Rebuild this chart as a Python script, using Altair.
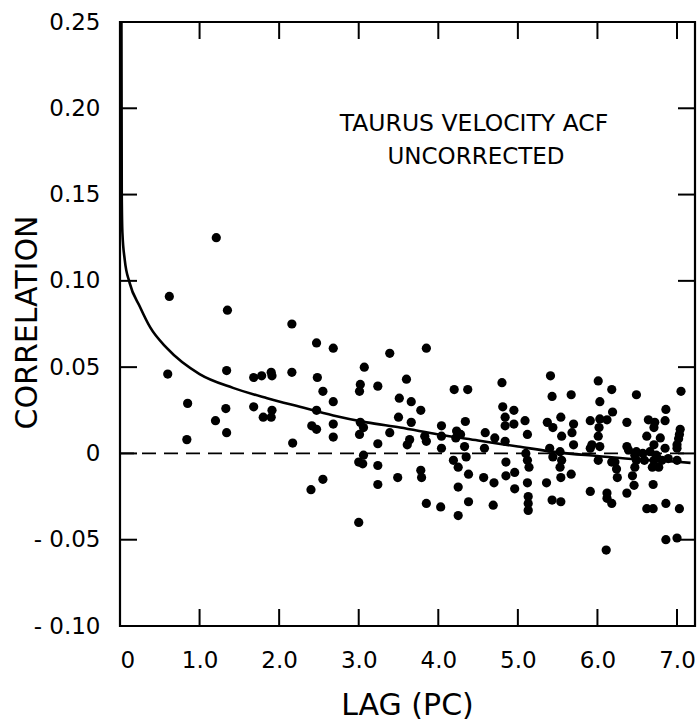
import altair as alt
import pandas as pd

# ---- scatter points (lag in pc, correlation) ----
lag = [
    0.62, 1.21, 1.35, 2.16, 0.60, 1.34, 1.68, 1.78, 1.90, 1.91, 2.16,
    0.85, 1.33, 1.68, 1.91, 1.80, 1.90, 1.20, 1.34, 0.84, 2.17,
    2.47, 2.68, 3.39, 3.07, 2.48, 3.60, 3.02, 3.01, 3.24, 2.55, 2.68, 3.51, 3.66,
    2.47, 3.78, 3.50, 3.66, 2.41, 2.47, 2.68, 3.02, 3.06, 3.01, 2.68, 3.39, 3.24,
    3.64, 3.61, 3.06, 3.00, 3.05, 3.24, 3.78, 2.55, 2.40, 3.24, 3.49, 3.00,
    3.85, 4.20, 4.37, 4.80, 4.81, 4.95, 4.84, 4.95, 4.84, 5.09, 5.12, 4.34, 4.04,
    4.23, 4.28, 3.83, 3.85, 4.04, 4.22, 4.59, 4.71, 4.84, 4.04, 4.33, 4.58, 4.35,
    4.19, 4.25, 4.38, 3.79, 4.57, 4.70, 4.85, 4.85, 4.96, 5.10, 5.12, 5.14, 5.12,
    4.96, 4.25, 3.85, 4.03, 4.38, 4.69, 4.25, 5.13, 5.13, 5.13,
    5.41, 6.01, 5.43, 5.67, 6.18, 6.03, 6.19, 5.37, 5.54, 5.70, 5.44, 5.91, 6.03,
    6.12, 6.02, 5.55, 5.68, 6.01, 5.70, 5.40, 5.93, 5.91, 6.03, 5.44, 5.53, 5.55,
    6.01, 6.18, 5.53, 5.54, 5.67, 5.36, 5.91, 6.12, 6.12, 6.18, 5.43, 5.54, 6.11,
    6.49, 7.05, 6.86, 6.37, 6.64, 6.72, 6.85, 6.71, 7.04, 7.03, 6.62, 6.79, 7.02,
    6.71, 7.00, 6.37, 7.00, 6.39, 6.85, 6.49, 6.57, 6.66, 6.74, 6.47, 6.22, 6.59,
    6.71, 6.81, 6.89, 7.00, 6.69, 6.77, 6.47, 6.49, 6.24, 6.25, 6.44, 6.46, 6.70,
    6.37, 6.62, 6.70, 6.86, 7.03, 6.86, 7.00,
]
corr = [
    0.091, 0.125, 0.083, 0.075, 0.046, 0.048, 0.044, 0.045, 0.047, 0.045, 0.047,
    0.029, 0.026, 0.027, 0.025, 0.021, 0.021, 0.019, 0.012, 0.008, 0.006,
    0.064, 0.061, 0.058, 0.050, 0.044, 0.043, 0.040, 0.036, 0.039, 0.036, 0.030, 0.032, 0.030,
    0.025, 0.025, 0.021, 0.018, 0.016, 0.014, 0.017, 0.018, 0.015, 0.011, 0.0095, 0.012, 0.0056,
    0.008, 0.005, -0.001, -0.005, -0.006, -0.007, -0.0098, -0.015, -0.021, -0.018, -0.014, -0.040,
    0.061, 0.037, 0.037, 0.041, 0.027, 0.025, 0.021, 0.017, 0.016, 0.019, 0.011, 0.0185, 0.016,
    0.013, 0.011, 0.010, 0.007, 0.010, 0.009, 0.012, 0.009, 0.007, 0.003, 0.004, 0.003, -0.002,
    -0.004, -0.008, -0.012, -0.014, -0.014, -0.017, -0.013, -0.005, -0.011, 0.000, -0.004, -0.008, -0.017,
    -0.0205, -0.0195, -0.029, -0.031, -0.028, -0.030, -0.036, -0.025, -0.029, -0.033,
    0.045, 0.042, 0.033, 0.034, 0.037, 0.030, 0.024, 0.018, 0.021, 0.017, 0.015, 0.019, 0.020,
    0.0195, 0.015, 0.010, 0.012, 0.010, 0.005, 0.003, 0.005, 0.003, 0.004, -0.002, 0.001, -0.004,
    -0.004, -0.005, -0.008, -0.014, -0.012, -0.017, -0.022, -0.023, -0.026, -0.029, -0.027, -0.028, -0.056,
    0.034, 0.036, 0.0255, 0.018, 0.0195, 0.018, 0.019, 0.015, 0.014, 0.011, 0.010, 0.009, 0.0085,
    0.005, 0.005, 0.004, 0.003, 0.002, 0.003, 0.001, 0.000, 0.001, -0.001, -0.001, -0.005, -0.004,
    -0.004, -0.004, -0.003, -0.004, -0.008, -0.008, -0.008, -0.004, -0.009, -0.014, -0.013, -0.0185, -0.018,
    -0.023, -0.032, -0.032, -0.029, -0.032, -0.050, -0.049,
]

# ---- fitted curve ----
curve_lag = [0.018, 0.022, 0.03, 0.06, 0.12, 0.25, 0.38, 0.59, 1.0, 1.42, 1.85,
             2.26, 2.68, 3.1, 3.52, 4.0, 4.5, 5.0, 5.5, 6.0, 6.5, 7.0, 7.17]
curve_corr = [0.25, 0.15, 0.128, 0.112, 0.099, 0.085, 0.073, 0.061, 0.046, 0.038, 0.032,
              0.027, 0.022, 0.018, 0.015, 0.011, 0.0075, 0.004, 0.0006, -0.0015, -0.0035,
              -0.0048, -0.0055]

# ---- zero reference line ----
zero_lag = [0.0, 7.13]
zero_corr = [0.0, 0.0]

# ---- ticks ----
x_ticks = [0, 1, 2, 3, 4, 5, 6, 7]
y_ticks = [-0.10, -0.05, 0.0, 0.05, 0.10, 0.15, 0.20, 0.25]
x_inner_ticks = [1, 2, 3, 4, 5, 6, 7]
y_inner_ticks = [-0.05, 0.0, 0.05, 0.10, 0.15, 0.20]

note_lines = ["TAURUS VELOCITY ACF", "UNCORRECTED"]

W, H = 575, 604
TL = 17
FONT = "DejaVu Sans"
X_DOM = [0, 7.226]
Y_DOM = [-0.10, 0.25]

xs = alt.Scale(domain=X_DOM, nice=False, zero=False)
ys = alt.Scale(domain=Y_DOM, nice=False, zero=False)

x_axis = alt.Axis(
    values=x_ticks, ticks=False, domain=False, grid=False,
    labelExpr="datum.value == 0 ? '0' : format(datum.value, '.1f')",
    labelFont=FONT, labelFontSize=23, labelColor="black", labelPadding=23,
    titleFont=FONT, titleFontSize=30, titleFontWeight="normal", titleColor="black",
    titleX=287, titleY=88, titleBaseline="alphabetic", titleAnchor="middle",
)
y_axis = alt.Axis(
    values=y_ticks, ticks=False, domain=False, grid=False,
    labelExpr="datum.value == 0 ? '0' : (datum.value < 0 ? '- ' + format(-datum.value, '.2f') : format(datum.value, '.2f'))",
    labelFont=FONT, labelFontSize=23, labelColor="black", labelPadding=20,
    titleFont=FONT, titleFontSize=30, titleFontWeight="normal", titleColor="black",
    titleX=-93, titleY=300, titleAngle=-90, titleBaseline="middle", titleAnchor="middle",
)

X = alt.X("lag:Q", scale=xs, axis=x_axis, title="LAG (PC)")
Y = alt.Y("corr:Q", scale=ys, axis=y_axis, title="CORRELATION")
X2 = alt.X2("lag2:Q")
Y2 = alt.Y2("corr2:Q")

pts = pd.DataFrame({"lag": lag, "corr": corr})
cur = pd.DataFrame({"lag": curve_lag, "corr": curve_corr})
zer = pd.DataFrame({"lag": zero_lag, "corr": zero_corr})

# inward tick marks: tick length converted from pixels to data units
dy = TL * (Y_DOM[1] - Y_DOM[0]) / H
dx = TL * (X_DOM[1] - X_DOM[0]) / W
bt_df = pd.DataFrame({"lag": x_inner_ticks, "corr": [Y_DOM[0]] * 7, "corr2": [Y_DOM[0] + dy] * 7})
tt_df = pd.DataFrame({"lag": x_inner_ticks, "corr": [Y_DOM[1] - dy] * 7, "corr2": [Y_DOM[1]] * 7})
lt_df = pd.DataFrame({"corr": y_inner_ticks, "lag": [X_DOM[0]] * 6, "lag2": [X_DOM[0] + dx] * 6})
rt_df = pd.DataFrame({"corr": y_inner_ticks, "lag": [X_DOM[1] - dx] * 6, "lag2": [X_DOM[1]] * 6})

points = alt.Chart(pts).mark_circle(size=85, color="black", opacity=1).encode(x=X, y=Y)
curve = alt.Chart(cur).mark_line(color="black", strokeWidth=2.6, interpolate="monotone").encode(x=X, y=Y)
zero = alt.Chart(zer).mark_line(color="black", strokeWidth=1.8, strokeDash=[14, 8]).encode(x=X, y=Y)

bt = alt.Chart(bt_df).mark_rule(color="black", strokeWidth=2).encode(x=X, y=Y, y2=Y2)
tt = alt.Chart(tt_df).mark_rule(color="black", strokeWidth=2).encode(x=X, y=Y, y2=Y2)
lt = alt.Chart(lt_df).mark_rule(color="black", strokeWidth=2).encode(x=X, x2=X2, y=Y)
rt = alt.Chart(rt_df).mark_rule(color="black", strokeWidth=2).encode(x=X, x2=X2, y=Y)

n1 = pd.DataFrame({"t": [note_lines[0]]})
n2 = pd.DataFrame({"t": [note_lines[1]]})
note1 = alt.Chart(n1).mark_text(
    font=FONT, fontSize=23.5, color="black", align="center", baseline="middle"
).encode(text="t:N", x=alt.value(354), y=alt.value(102))
note2 = alt.Chart(n2).mark_text(
    font=FONT, fontSize=23, color="black", align="center", baseline="middle"
).encode(text="t:N", x=alt.value(356), y=alt.value(135))

chart = alt.layer(zero, curve, points, bt, tt, lt, rt, note1, note2).properties(
    width=W, height=H,
    autosize=alt.AutoSizeParams(type="none"),
    padding={"left": 120, "top": 22, "right": 3, "bottom": 95},
    background="white",
).configure_view(stroke="black", strokeWidth=2.2)

chart.save("out.html", embed_options={"renderer": "svg", "actions": False})
